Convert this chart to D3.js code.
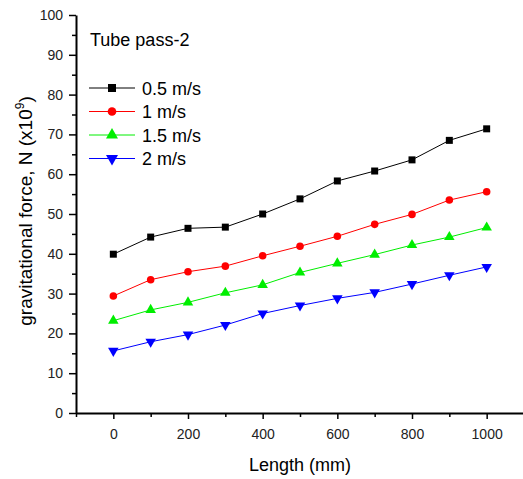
<!DOCTYPE html>
<html>
<head>
<meta charset="UTF-8">
<script src="https://d3js.org/d3.v7.min.js"></script>
<style>
  body { margin: 0; background: #fff; }
  text { font-family: Arial, "Liberation Sans", sans-serif; }
</style>
</head>
<body>
<svg id="chart" width="523" height="479"></svg>
<script>
// data
const lengths = [0, 100, 200, 300, 400, 500, 600, 700, 800, 900, 1000];
const v05 = [39.9, 44.2, 46.4, 46.7, 50.0, 53.8, 58.3, 60.8, 63.6, 68.5, 71.4];
const v1  = [29.4, 33.5, 35.5, 36.9, 39.5, 41.9, 44.4, 47.4, 49.9, 53.5, 55.6];
const v15 = [23.2, 25.9, 27.8, 30.2, 32.2, 35.3, 37.6, 39.8, 42.2, 44.2, 46.6];
const v2  = [15.6, 17.9, 19.7, 22.1, 25.0, 27.0, 28.8, 30.3, 32.4, 34.6, 36.7];
const seriesNames = ["0.5 m/s", "1 m/s", "1.5 m/s", "2 m/s"];
const xTicks = [0, 200, 400, 600, 800, 1000];
const yTicks = [0, 10, 20, 30, 40, 50, 60, 70, 80, 90, 100];

const series = [
  { name: seriesNames[0], values: v05, color: "#000000", symbol: d3.symbolSquare, size: 49, rot: 0 },
  { name: seriesNames[1], values: v1,  color: "#ff0000", symbol: d3.symbolCircle, size: 45, rot: 0 },
  { name: seriesNames[2], values: v15, color: "#00ee00", symbol: d3.symbolTriangle, size: 48, rot: 0 },
  { name: seriesNames[3], values: v2,  color: "#0000ff", symbol: d3.symbolTriangle, size: 48, rot: 180 }
];

const svg = d3.select("#chart");
const x = d3.scaleLinear().domain([-100, 1100]).range([76, 524]);
const y = d3.scaleLinear().domain([0, 100]).range([413, 15]);

// minor ticks
svg.append("g")
  .attr("transform", "translate(0,413)")
  .call(d3.axisBottom(x).tickValues(d3.range(-100, 1101, 100).filter(v => v % 200 !== 0)).tickSize(4).tickFormat(""))
  .call(g => g.select(".domain").remove())
  .selectAll("line").attr("stroke-width", 1.5);
svg.append("g")
  .attr("transform", "translate(76,0)")
  .call(d3.axisLeft(y).tickValues(d3.range(5, 100, 10)).tickSize(4).tickFormat(""))
  .call(g => g.select(".domain").remove())
  .selectAll("line").attr("stroke-width", 1.5);

// major axes
const xAxis = svg.append("g")
  .attr("transform", "translate(0,413)")
  .call(d3.axisBottom(x).tickValues(xTicks).tickFormat(d3.format("d")).tickSize(6).tickSizeOuter(0).tickPadding(10));
const yAxis = svg.append("g")
  .attr("transform", "translate(76,0)")
  .call(d3.axisLeft(y).tickValues(yTicks).tickSize(7).tickSizeOuter(0).tickPadding(6));
[xAxis, yAxis].forEach(g => {
  g.select(".domain").attr("stroke-width", 2);
  g.selectAll("line").attr("stroke-width", 1.5);
  g.selectAll("text").style("font-size", "14px").attr("fill", "#222");
});

// lines + markers
const line = d3.line().x((d, i) => x(lengths[i])).y(d => y(d));
series.forEach(s => {
  svg.append("path")
    .datum(s.values)
    .attr("fill", "none")
    .attr("stroke", s.color)
    .attr("stroke-width", 1)
    .attr("d", line);
  svg.selectAll(null)
    .data(s.values)
    .enter().append("path")
    .attr("d", d3.symbol().type(s.symbol).size(s.size))
    .attr("transform", (d, i) => `translate(${x(lengths[i])},${y(d)}) rotate(${s.rot})`)
    .attr("fill", s.color);
});

// legend
svg.append("text")
  .attr("x", 90).attr("y", 46)
  .style("font-size", "18px")
  .text("Tube pass-2");
const leg = svg.append("g");
series.forEach((s, i) => {
  const ly = 88 + i * 23.5;
  leg.append("line")
    .attr("x1", 89).attr("x2", 135).attr("y1", ly).attr("y2", ly)
    .attr("stroke", s.color).attr("stroke-width", 1);
  leg.append("path")
    .attr("d", d3.symbol().type(s.symbol).size(s.size * 1.3))
    .attr("transform", `translate(112,${ly}) rotate(${s.rot})`)
    .attr("fill", s.color);
  leg.append("text")
    .attr("x", 142).attr("y", ly + 6.5)
    .style("font-size", "18px")
    .text(s.name);
});

// axis titles
svg.append("text")
  .attr("x", x(500)).attr("y", 471)
  .attr("text-anchor", "middle")
  .style("font-size", "18px")
  .text("Length (mm)");
const yl = svg.append("text")
  .attr("transform", "translate(32,211) rotate(-90)")
  .attr("text-anchor", "middle")
  .style("font-size", "19px");
yl.append("tspan").text("gravitational force, N (x10");
yl.append("tspan").attr("dy", -8).style("font-size", "12px").text("9");
yl.append("tspan").attr("dy", 8).text(")");
</script>
</body>
</html>
